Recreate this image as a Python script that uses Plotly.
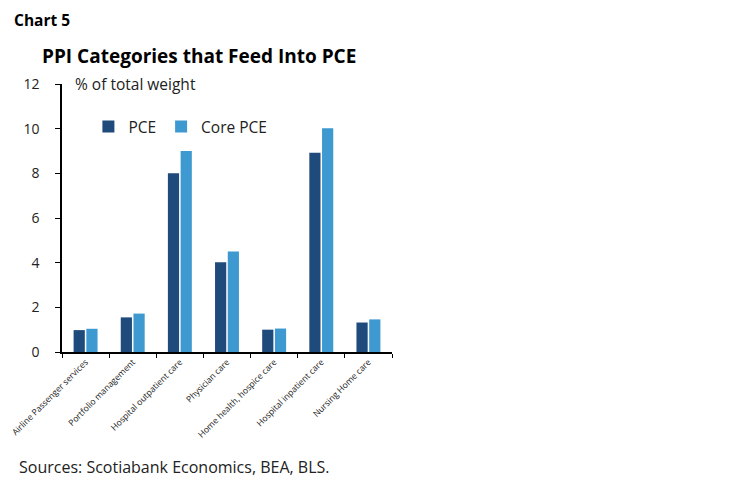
import plotly.graph_objs as go

categories = [
    'Airline Passenger services',
    'Portfolio management',
    'Hospital outpatient care',
    'Physician care',
    'Home health, hospice care',
    'Hospital inpatient care',
    'Nursing Home care',
]
pce = [0.98, 1.55, 8.0, 4.02, 1.0, 8.92, 1.32]
core_pce = [1.04, 1.72, 9.0, 4.5, 1.05, 10.02, 1.46]

PCE_COLOR = '#1f4a7c'
CORE_COLOR = '#3d99cf'
TEXT_FONT = 'Open Sans'


def main():
    fig = go.Figure()
    fig.add_trace(go.Bar(x=categories, y=pce, name='PCE',
                         marker=dict(color=PCE_COLOR, line=dict(width=0))))
    fig.add_trace(go.Bar(x=categories, y=core_pce, name='Core PCE',
                         marker=dict(color=CORE_COLOR, line=dict(width=0))))

    fig.update_layout(
        width=748,
        height=483,
        margin=dict(l=54, r=364, t=76, b=139),
        plot_bgcolor='white',
        paper_bgcolor='white',
        barmode='group',
        bargap=0.46,
        bargroupgap=0.12,
        font=dict(family=TEXT_FONT, color='#222222', size=13),
        showlegend=True,
        legend=dict(
            orientation='h',
            x=0.08, y=0.84,
            xanchor='left', yanchor='middle',
            font=dict(size=15.5, family=TEXT_FONT),
            bgcolor='rgba(0,0,0,0)',
            itemwidth=30,
            traceorder='normal',
        ),
    )
    fig.update_xaxes(
        automargin=False,
        showline=True,
        linecolor='black',
        linewidth=1.5,
        ticks='outside',
        tickson='boundaries',
        ticklen=4,
        tickcolor='black',
        tickangle=-45,
        tickfont=dict(size=8.6, family=TEXT_FONT),
        showgrid=False,
    )
    fig.update_yaxes(
        automargin=False,
        range=[0, 12],
        dtick=2,
        showline=True,
        linecolor='black',
        linewidth=1.5,
        ticks='outside',
        ticklen=5,
        tickcolor='black',
        ticklabelstandoff=13,
        tickfont=dict(size=14, family=TEXT_FONT),
        showgrid=False,
        zeroline=False,
    )

    fig.add_annotation(text='<b>Chart 5</b>', xref='paper', yref='paper',
                       x=-0.152, y=1.237, xanchor='left', yanchor='middle',
                       showarrow=False,
                       font=dict(family='Open Sans', size=15.5, color='black'))
    fig.add_annotation(text='<b>PPI Categories that Feed Into PCE</b>',
                       xref='paper', yref='paper', x=0.415, y=1.104,
                       xanchor='center', yanchor='middle', showarrow=False,
                       font=dict(family='Open Sans', size=19, color='black'))
    fig.add_annotation(text='% of total weight', xref='paper', yref='paper',
                       x=0.033, y=1.0, xanchor='left', yanchor='middle',
                       showarrow=False,
                       font=dict(family=TEXT_FONT, size=15.5, color='#222222'))
    fig.add_annotation(text='Sources: Scotiabank Economics, BEA, BLS.',
                       xref='paper', yref='paper', x=-0.136, y=-0.429,
                       xanchor='left', yanchor='middle', showarrow=False,
                       font=dict(family=TEXT_FONT, size=16, color='#222222'))

    fig.write_html('out.html')


if __name__ == '__main__':
    main()
